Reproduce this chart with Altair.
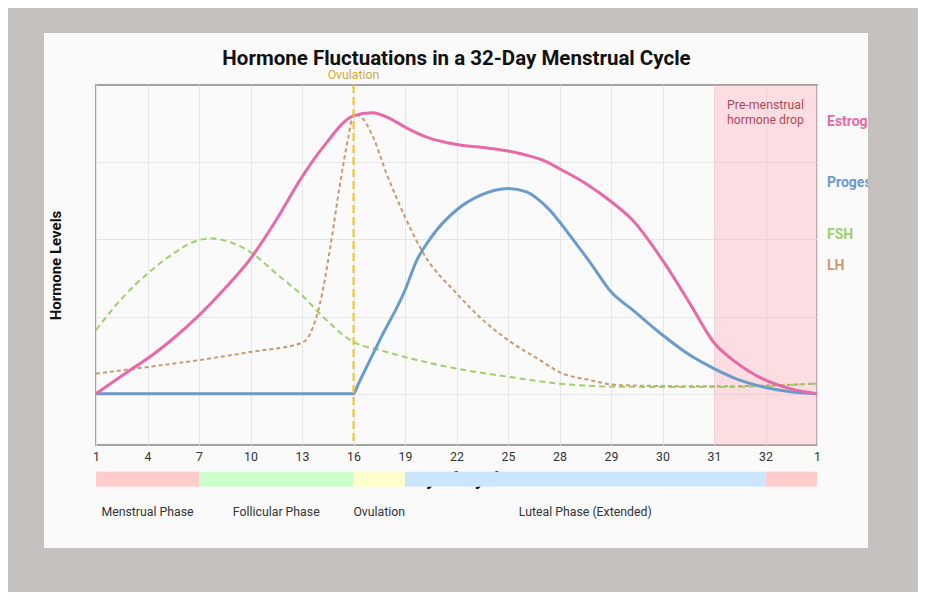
import json
import pandas as pd
import altair as alt

# ---------------- data (x = tick position index 0..14, v = hormone level) -------------
tick_labels = ["1", "4", "7", "10", "13", "16", "19", "22", "25", "28", "29", "30", "31", "32", "1"]

estrogen_x = [0, 0.66, 1, 1.5, 2, 2.47, 3, 3.5, 4, 4.41, 5, 5.35, 5.71, 6, 6.42, 7, 7.52, 8,
              8.36, 8.75, 9, 9.53, 10, 10.43, 11, 11.53, 12, 12.37, 13, 13.48, 14]
estrogen_y = [0, 6.1, 9.1, 14.3, 20.3, 26.8, 35.0, 45.0, 56.2, 63.9, 72.0, 72.8, 71.3, 69.1, 66.5,
              64.6, 63.8, 62.9, 61.8, 60.1, 58.3, 54.3, 49.8, 44.8, 34.6, 23.4, 13.2, 8.7, 3.5, 1.3, 0]

progesterone_x = [0, 5, 5.1, 5.51, 6, 6.23, 6.49, 7, 7.46, 8, 8.36, 8.75, 9.27, 9.59, 10, 10.43,
                  11, 11.53, 12, 12.5, 13, 13.48, 14]
progesterone_y = [0, 0, 2.7, 13.9, 26.8, 34.6, 40.2, 47.6, 51.4, 53.2, 52.3, 48.4, 39.8, 34.1, 26.4,
                  21.6, 15.2, 10.0, 6.5, 3.5, 1.6, 0.5, 0]

fsh_x = [0, 0.53, 1, 1.5, 2, 2.25, 2.6, 3, 3.5, 4, 4.41, 5, 5.51, 6, 7, 8, 9, 10.17, 12, 14]
fsh_y = [16.5, 25.1, 31.1, 36.3, 39.8, 40.2, 39.3, 36.7, 31.1, 25.5, 19.9, 13.4, 11.3, 9.5, 6.5,
         4.4, 2.6, 1.8, 1.7, 2.6]

lh_x = [0, 1, 2, 3, 4, 4.16, 4.35, 4.54, 4.74, 4.9, 5, 5.13, 5.38, 5.64, 6, 6.36, 7, 7.52, 8,
        8.62, 9, 9.59, 10.17, 12, 14]
lh_y = [5.2, 6.9, 8.7, 10.8, 13.2, 15.6, 23.4, 37.2, 54.5, 66.5, 72.4, 71.9, 66.5, 57.1, 45.8,
        36.3, 26.0, 19.0, 13.9, 8.7, 5.6, 3.5, 2.2, 1.9, 2.6]

phase_names = ["Menstrual Phase", "Follicular Phase", "Ovulation", "Luteal Phase (Extended)",
               "Next Menstrual Phase"]
phase_labels = ["Menstrual Phase", "Follicular Phase", "Ovulation", "Luteal Phase (Extended)", ""]
phase_start = [0, 2, 5, 6, 13]
phase_end = [2, 5, 6, 13, 14]
phase_colors = ["#ffcccc", "#ccffcc", "#ffffcc", "#cce5ff", "#ffcccc"]

ovulation_pos = [5]
premenstrual_start = [12]
premenstrual_end = [14]

# ---------------- styling ----------------
W, H = 721, 360
PINK, BLUE, GREEN, TAN = "#e76aa7", "#6b9bcb", "#9dcf6b", "#c99a6e"
FRAME = "#c5c1bf"
ONE = alt.Data(values=[{}])

xscale = alt.Scale(domain=[0, 14], nice=False, zero=False)
yscale = alt.Scale(domain=[-13.3, 80], nice=False, zero=False)

x_axis = alt.Axis(
    values=list(range(15)), labelExpr=json.dumps(tick_labels) + "[datum.value]",
    title=None, ticks=False, domain=False, grid=True,
    gridColor="#e6e6e6",
    labelPadding=5, labelFontSize=12.3, labelColor="#333333", labelFlush=False,
)


def X(field):
    return alt.X(field, scale=xscale, axis=x_axis)


y_main = alt.Y(
    "v:Q", scale=yscale,
    axis=alt.Axis(
        values=[0, 20, 40, 60], labels=False, ticks=False, domain=False, grid=True,
        gridColor="#e6e6e6", title="Hormone Levels", titleFontSize=15,
        titleFontWeight="bold", titleColor="#111111", titlePadding=33,
    ),
)


def line(xs, ys, color, width, dash=None):
    df = pd.DataFrame({"x": xs, "v": ys})
    kw = dict(color=color, strokeWidth=width, interpolate="monotone")
    if dash:
        kw["strokeDash"] = dash
    return alt.Chart(df).mark_line(**kw).encode(x=X("x:Q"), y=y_main)


band = alt.Chart(pd.DataFrame({"x": premenstrual_start, "x2": premenstrual_end})).mark_rect(
    color="#ffaab4", opacity=0.35
).encode(x=X("x:Q"), x2="x2:Q", y=alt.value(0), y2=alt.value(H))

band_text = alt.Chart(pd.DataFrame({"s": premenstrual_start, "e": premenstrual_end})).transform_calculate(
    x="(datum.s + datum.e) / 2"
).mark_text(
    text=["Pre-menstrual", "hormone drop"], fontSize=12.3, color="#b04a55",
    baseline="middle", lineHeight=15,
).encode(x=X("x:Q"), y=alt.value(19.5))

lh = line(lh_x, lh_y, TAN, 2, [4, 3])
fsh = line(fsh_x, fsh_y, GREEN, 2, [6, 4])
prog = line(progesterone_x, progesterone_y, BLUE, 3)
estr = line(estrogen_x, estrogen_y, PINK, 3)

ov_rule = alt.Chart(pd.DataFrame({"x": ovulation_pos})).mark_rule(
    color="#f5c518", strokeWidth=2, strokeDash=[8, 4]
).encode(x=X("x:Q"))

ov_text = alt.Chart(pd.DataFrame({"x": ovulation_pos})).mark_text(
    text="Ovulation", fontSize=12.3, color="#d4aa3c", baseline="middle"
).encode(x=X("x:Q"), y=alt.value(-10))

series_labels = []
for name, col, ypix in [("Estrogen", PINK, 37), ("Progesterone", BLUE, 98),
                        ("FSH", GREEN, 150), ("LH", TAN, 181)]:
    series_labels.append(
        alt.Chart(ONE).mark_text(text=name, fontSize=14, fontWeight="bold", color=col,
                                 align="left", baseline="middle")
        .encode(x=alt.value(731), y=alt.value(ypix))
    )

title = alt.Chart(ONE).mark_text(
    text="Hormone Fluctuations in a 32-Day Menstrual Cycle", fontSize=20.5, fontWeight="bold",
    color="#111111", baseline="middle"
).encode(x=alt.value(W / 2), y=alt.value(-26.5))

x_title = alt.Chart(ONE).mark_text(
    text="Day of Cycle", fontSize=19, fontWeight="bold", color="#111111", baseline="alphabetic"
).encode(x=alt.value(W / 2), y=alt.value(400))

phases = pd.DataFrame({"name": phase_names, "label": phase_labels,
                       "x": phase_start, "end": phase_end})
phase_bar = alt.Chart(phases).mark_rect().encode(
    x=X("x:Q"), x2="end:Q",
    y=alt.value(386.7), y2=alt.value(401.7),
    color=alt.Color("name:N", scale=alt.Scale(domain=phase_names, range=phase_colors), legend=None),
)
phase_text = alt.Chart(phases).transform_filter("datum.label != ''").transform_calculate(
    mid="(datum.x + datum.end) / 2"
).transform_calculate(x="datum.mid").mark_text(
    fontSize=12.3, color="#333333", baseline="middle"
).encode(x=X("x:Q"), y=alt.value(426.5), text="label:N")


def frame_rect(x1, x2, y1, y2):
    return alt.Chart(ONE).mark_rect(color=FRAME).encode(
        x=alt.value(x1), x2=alt.value(x2), y=alt.value(y1), y2=alt.value(y2)
    )


frames = [
    frame_rect(-88, -52, -77, 507),
    frame_rect(772, 822, -77, 507),
    frame_rect(-88, 822, -77, -52),
    frame_rect(-88, 822, 463, 507),
]

chart = alt.layer(
    band, lh, fsh, prog, estr, ov_rule, ov_text, band_text, *series_labels, title,
    x_title, phase_bar, phase_text, *frames
).properties(
    width=W, height=H,
    padding={"left": 88, "top": 77, "right": 101, "bottom": 147},
    autosize=alt.AutoSizeParams(type="none"),
    background="#fafafa",
).configure(font="Roboto").configure_view(stroke="#a3a3a3", strokeWidth=2)

chart.save("out.html", embed_options={"renderer": "svg", "actions": False})
